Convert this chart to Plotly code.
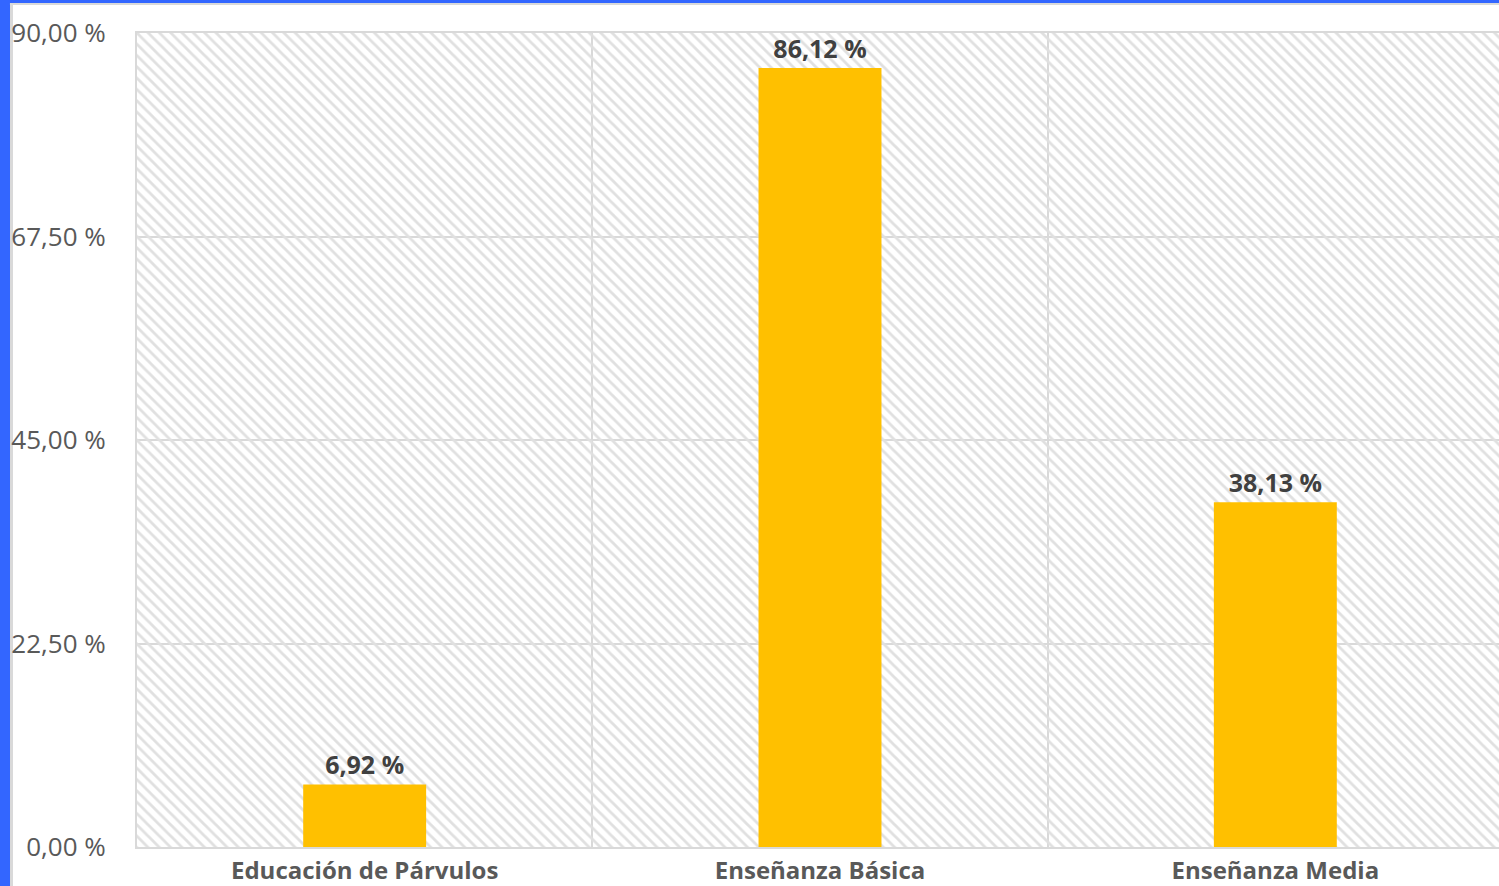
import plotly.graph_objects as go

categories = ["Educación de Párvulos", "Enseñanza Básica", "Enseñanza Media"]
values = [6.92, 86.12, 38.13]
tick_values = [0, 22.5, 45, 67.5, 90]
tick_labels = ["0,00 %", "22,50 %", "45,00 %", "67,50 %", "90,00 %"]

y_max = tick_values[-1]
grid_color = "#d9d9d9"

fig = go.Figure()

# hatched background of the plot area
fig.add_trace(go.Bar(
    x=categories, y=[y_max] * len(categories), width=1,
    marker=dict(color="rgba(0,0,0,0)", line=dict(width=0),
                pattern=dict(shape="\\", fgcolor="#e0e0e0", bgcolor="rgba(0,0,0,0)",
                             size=8, solidity=0.35, fillmode="replace")),
    hoverinfo="skip", showlegend=False,
))

fig.add_trace(go.Bar(
    x=categories, y=values, width=0.27,
    marker=dict(color="#FFC000", line=dict(width=0)),
    text=values, texttemplate="%{y:.2f} %", textposition="outside",
    textfont=dict(family="Open Sans", size=25, color="#404040", weight="bold"),
    cliponaxis=False, showlegend=False,
))

fig.update_layout(
    width=1505, height=886,
    margin=dict(l=137, r=0, t=33, b=32),
    paper_bgcolor="white", plot_bgcolor="white",
    barmode="overlay", separators=", ",
    xaxis=dict(
        tickson="boundaries", showgrid=True, gridcolor=grid_color, gridwidth=2,
        showline=True, linecolor=grid_color, linewidth=2, mirror=True,
        ticks="", ticklabelstandoff=1,
        tickfont=dict(family="Open Sans", size=24, color="#595959", weight="bold"),
        fixedrange=True,
    ),
    yaxis=dict(
        range=[0, y_max], tickvals=tick_values, ticktext=tick_labels,
        showgrid=True, gridcolor=grid_color, gridwidth=2,
        showline=True, linecolor=grid_color, linewidth=2, mirror=True,
        zeroline=False, ticks="", ticklabelstandoff=24,
        tickfont=dict(family="Open Sans", size=26, color="#595959"),
    ),
    shapes=[
        dict(type="rect", xref="paper", yref="paper", xsizemode="pixel", xanchor=0,
             x0=-137, x1=-127, y0=-0.1, y1=1.1, fillcolor="#3366FF", line=dict(width=0), layer="below"),
        dict(type="rect", xref="paper", yref="paper", xsizemode="pixel", xanchor=0,
             x0=-127, x1=-124, y0=-0.1, y1=1.1, fillcolor="#d9d9d9", line=dict(width=0), layer="below"),
        dict(type="rect", xref="paper", yref="paper", ysizemode="pixel", yanchor=1,
             y0=33, y1=30, x0=-0.2, x1=1.1, fillcolor="#3366FF", line=dict(width=0), layer="below"),
        dict(type="rect", xref="paper", yref="paper", ysizemode="pixel", yanchor=1,
             y0=30, y1=28, x0=-0.093, x1=1.1, fillcolor="#d9d9d9", line=dict(width=0), layer="below"),
    ],
)

fig.write_html("out.html", config={"displayModeBar": False},
               post_script="document.body.style.margin='0';document.body.style.overflow='hidden';")
